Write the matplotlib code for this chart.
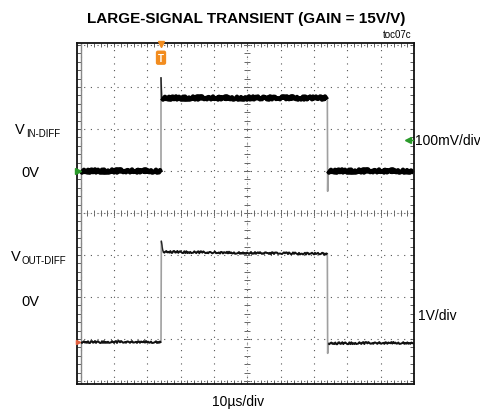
import numpy as np
import matplotlib
matplotlib.use('Agg')
import matplotlib.pyplot as plt

plt.rcParams['font.family'] = ['Liberation Sans', 'DejaVu Sans']

# values in scope divisions (x: 0..10 div of 10us, y: 0..8 div)
# input trace (100mV/div)
t_in_low1 = [0.0, 2.41]
v_in_low1 = [5.0, 5.0]
t_in_high = [2.43, 7.40]
v_in_high = [6.75, 6.75]
t_in_low2 = [7.42, 10.0]
v_in_low2 = [5.0, 5.0]
t_in_rise = [2.41, 2.41, 2.43]
v_in_rise = [5.0, 7.22, 6.75]
t_in_fall = [7.40, 7.41, 7.42]
v_in_fall = [6.75, 4.52, 5.0]

# output trace (1V/div)
t_out_low1 = [0.0, 2.41]
v_out_low1 = [0.94, 0.94]
t_out_high = [2.48, 4.0, 7.40]
v_out_high = [3.08, 3.06, 3.03]
t_out_low2 = [7.43, 10.0]
v_out_low2 = [0.90, 0.91]
t_out_rise = [2.41, 2.42, 2.46, 2.48]
v_out_rise = [0.94, 3.33, 3.12, 3.08]
t_out_fall = [7.40, 7.41, 7.43]
v_out_fall = [3.03, 0.66, 0.90]

fig = plt.figure(figsize=(4.8, 4.1), dpi=100)
ax = fig.add_axes([77 / 480, 25 / 410, 337 / 480, 341 / 410])
ax.set_xlim(-0.11, 10.0)
ax.set_ylim(-0.07, 8.05)

# grid (dotted), center cross with tick marks
ax.set_xticks(np.arange(0, 11, 1))
ax.set_yticks(np.arange(0, 9, 1))
ax.set_xticks(np.arange(0, 10.01, 0.2), minor=True)
ax.set_yticks(np.arange(0, 8.01, 0.2), minor=True)
ax.grid(True, which='major', color='#555555', linestyle=(0, (1, 5)), linewidth=0.8)
ax.tick_params(which='both', direction='in', length=3, width=0.6, color='#444444',
               top=True, right=True, labelbottom=False, labelleft=False)
for s in ax.spines.values():
    s.set_linewidth(1.3)
    s.set_color('#111111')

xm = np.arange(0, 10.01, 0.2)
ym = np.arange(0, 8.01, 0.2)
ax.plot(xm, [4] * len(xm), ls='none', marker='|', ms=4.5, mew=0.7, color='#666666')
ax.plot([5] * len(ym), ym, ls='none', marker='_', ms=4.5, mew=0.7, color='#666666')
ax.axhline(4, color='#999999', lw=0.5, ls=(0, (1, 3)))
ax.axvline(5, color='#999999', lw=0.5, ls=(0, (1, 3)))
ax.axvline(0, color='#888888', lw=1.0)

# edges in gray
for t, v in [(t_in_rise, v_in_rise), (t_in_fall, v_in_fall),
             (t_out_rise, v_out_rise), (t_out_fall, v_out_fall)]:
    ax.plot(t, v, color='#a0a0a0', lw=1.2)
ax.plot(t_in_rise[1:], v_in_rise[1:], color='#222222', lw=1.0)
ax.plot(t_out_rise[1:], v_out_rise[1:], color='#222222', lw=0.9)

# flat levels
for t, v in [(t_in_low1, v_in_low1), (t_in_high, v_in_high), (t_in_low2, v_in_low2)]:
    ln, = ax.plot(t, v, color='black', lw=3.2, solid_capstyle='butt')
    ln.set_sketch_params(scale=1.6, length=1.5, randomness=3)
for t, v in [(t_out_low1, v_out_low1), (t_out_high, v_out_high), (t_out_low2, v_out_low2)]:
    ln, = ax.plot(t, v, color='#111111', lw=1.4, solid_capstyle='butt')
    ln.set_sketch_params(scale=1.0, length=1.5, randomness=3)

# trigger marker
ax.plot([2.41], [8.03], marker='v', ms=5, color='#f28c1e', clip_on=False, zorder=5)
ax.text(2.41, 7.7, 'T', color='white', fontsize=7, fontweight='bold', ha='center', va='center',
        bbox=dict(boxstyle='round,pad=0.15', fc='#f28c1e', ec='#f28c1e'), zorder=5)

# channel markers
ax.plot([-0.08], [5.0], marker='>', ms=4, color='#2a9a2a', clip_on=False, zorder=5)
ax.plot([9.82], [5.74], marker='<', ms=5, color='#2a9a2a', clip_on=False, zorder=5)
ax.plot([9.82, 9.98], [5.74, 5.74], color='#2a9a2a', lw=1.0, clip_on=False, zorder=5)
ax.plot([-0.08], [0.94], marker='>', ms=3, color='#e06040', clip_on=False, zorder=5)

# texts
fig.text(246 / 480, 1 - 19 / 410, 'LARGE-SIGNAL TRANSIENT (GAIN = 15V/V)', fontsize=11,
         fontweight='bold', ha='center', va='center')
fig.text(411 / 480, 1 - 35 / 410, 'toc07c', fontsize=7, ha='right', va='center')

fig.text(15 / 480, 1 - 130 / 410, 'V', fontsize=10.5, ha='left', va='center')
fig.text(26 / 480, 1 - 134 / 410, 'IN-DIFF', fontsize=7, ha='left', va='center')
fig.text(30 / 480, 1 - 173 / 410, '0V', fontsize=10.5, ha='center', va='center')
fig.text(11 / 480, 1 - 257 / 410, 'V', fontsize=10.5, ha='left', va='center')
fig.text(22 / 480, 1 - 261 / 410, 'OUT-DIFF', fontsize=7, ha='left', va='center')
fig.text(30 / 480, 1 - 302 / 410, '0V', fontsize=10.5, ha='center', va='center')

fig.text(415 / 480, 1 - 141 / 410, '100mV/div', fontsize=10, ha='left', va='center')
fig.text(418 / 480, 1 - 316 / 410, '1V/div', fontsize=10, ha='left', va='center')
fig.text(238 / 480, 1 - 402 / 410, '10\u00b5s/div', fontsize=10, ha='center', va='center')

fig.savefig('out.png', dpi=100)
